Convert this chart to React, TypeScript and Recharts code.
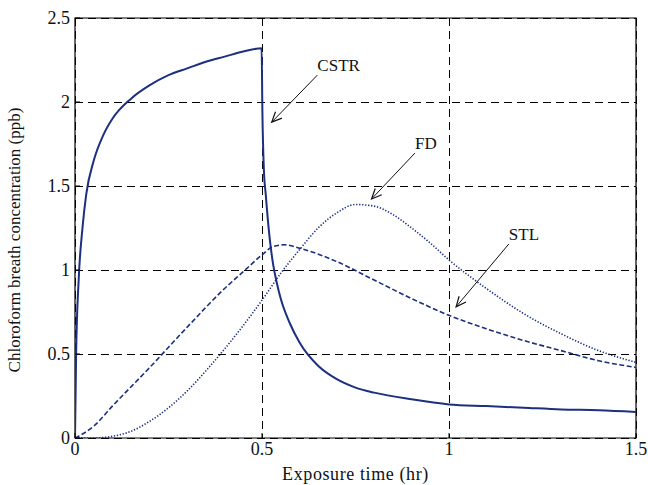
import React from 'react';
import { LineChart, Line, XAxis, YAxis, CartesianGrid, ReferenceArea, ReferenceLine } from 'recharts';

// CSTR (solid)
const cstrT = [0, 0.003, 0.01, 0.02, 0.03, 0.05, 0.075, 0.1, 0.15, 0.2, 0.25, 0.3, 0.35, 0.4, 0.45, 0.499, 0.501, 0.505, 0.51, 0.52, 0.53, 0.54, 0.55, 0.575, 0.6, 0.65, 0.7, 0.75, 0.8, 0.9, 1.0, 1.1, 1.2, 1.3, 1.4, 1.5];
const cstrV = [0, 0.5, 0.95, 1.25, 1.45, 1.65, 1.8, 1.9, 2.02, 2.1, 2.16, 2.2, 2.24, 2.27, 2.3, 2.32, 1.95, 1.6, 1.45, 1.2, 1.03, 0.92, 0.83, 0.68, 0.57, 0.43, 0.35, 0.3, 0.27, 0.23, 0.2, 0.19, 0.18, 0.17, 0.165, 0.155];

// STL (dashed)
const stlT = [0, 0.05, 0.1, 0.2, 0.3, 0.4, 0.45, 0.5, 0.53, 0.56, 0.6, 0.7, 0.8, 0.9, 1.0, 1.1, 1.2, 1.3, 1.4, 1.5];
const stlV = [0, 0.07, 0.19, 0.42, 0.66, 0.89, 0.99, 1.09, 1.14, 1.15, 1.13, 1.05, 0.94, 0.83, 0.73, 0.65, 0.58, 0.52, 0.46, 0.42];

// FD (dotted)
const fdT = [0, 0.05, 0.1, 0.15, 0.2, 0.25, 0.3, 0.35, 0.4, 0.45, 0.5, 0.55, 0.6, 0.65, 0.7, 0.75, 0.8, 0.85, 0.9, 0.95, 1.0, 1.1, 1.2, 1.3, 1.4, 1.5];
const fdV = [0, 0, 0.01, 0.04, 0.1, 0.18, 0.28, 0.4, 0.53, 0.67, 0.82, 0.98, 1.12, 1.25, 1.34, 1.39, 1.38, 1.33, 1.25, 1.16, 1.06, 0.89, 0.74, 0.62, 0.52, 0.45];

const xTicks = [0, 0.5, 1, 1.5];
const yTicks = [0, 0.5, 1, 1.5, 2, 2.5];

// annotations: label, arrow start (t, v) and arrow tip (t, v)
const annLabels = ['CSTR', 'FD', 'STL'];
const annStart = [[0.648, 2.16], [0.909, 1.696], [1.160, 1.155]];
const annTip = [[0.526, 1.88], [0.793, 1.423], [1.019, 0.781]];

const COLOR = '#1d2f80';
const FONT = 'Liberation Serif, Times New Roman, serif';

const cstrData = cstrT.map((t, i) => ({ t, v: cstrV[i] }));
const stlData = stlT.map((t, i) => ({ t, v: stlV[i] }));
const fdData = fdT.map((t, i) => ({ t, v: fdV[i] }));

const makeArrow = (label: string) => (p: any) => {
  const { x1, y1, x2, y2 } = p;
  const ang = Math.atan2(y2 - y1, x2 - x1);
  const L = 11;
  const a = 0.42;
  const hx1 = x2 - L * Math.cos(ang - a);
  const hy1 = y2 - L * Math.sin(ang - a);
  const hx2 = x2 - L * Math.cos(ang + a);
  const hy2 = y2 - L * Math.sin(ang + a);
  return (
    <g>
      <line x1={x1} y1={y1} x2={x2} y2={y2} stroke="#111" strokeWidth={1} />
      <polyline points={`${hx1},${hy1} ${x2},${y2} ${hx2},${hy2}`} fill="none" stroke="#111" strokeWidth={1.2} />
      <text x={x1} y={y1 - 4} fontFamily={FONT} fontSize={17} fill="#111">{label}</text>
    </g>
  );
};

export default function App() {
  return (
    <div style={{ position: 'fixed', left: 0, top: 0, width: 648, height: 485, background: '#fff' }}>
      <LineChart width={648} height={485} margin={{ top: 18, right: 12, bottom: 0, left: 0 }}>
        <CartesianGrid stroke="#000" strokeDasharray="8 5" strokeWidth={1} shapeRendering="crispEdges" />
        <XAxis
          dataKey="t"
          type="number"
          domain={[0, 1.5]}
          ticks={xTicks}
          allowDataOverflow
          height={47}
          tickSize={-5}
          tickMargin={9}
          axisLine={false}
          tickLine={{ stroke: '#000' }}
          tick={{ fill: '#111', fontFamily: FONT, fontSize: 18 }}
          label={{ value: 'Exposure time (hr)', position: 'insideBottom', offset: 5, fill: '#111', fontFamily: FONT, fontSize: 18, style: { letterSpacing: '0.6px' } }}
        />
        <YAxis
          type="number"
          domain={[0, 2.5]}
          ticks={yTicks}
          allowDataOverflow
          width={75}
          tickSize={-5}
          tickMargin={10}
          axisLine={false}
          tickLine={{ stroke: '#000' }}
          tick={{ fill: '#111', fontFamily: FONT, fontSize: 18 }}
          label={{
            content: (props: any) => {
              const vb = props.viewBox || { x: 0, y: 18, width: 75, height: 420 };
              const cy = vb.y + vb.height / 2 + 12;
              const cx = 20;
              return (
                <text x={cx} y={cy} transform={`rotate(-90, ${cx}, ${cy})`} textAnchor="middle" fontFamily={FONT} fontSize={17} fill="#111">
                  Chloroform breath concentration (ppb)
                </text>
              );
            },
          }}
        />
        <ReferenceArea x1={0} x2={1.5} y1={0} y2={2.5} fill="none" stroke="#000" strokeWidth={1.2} ifOverflow="visible" />
        <Line data={cstrData} dataKey="v" type="monotone" stroke={COLOR} strokeWidth={2} dot={false} isAnimationActive={false} />
        <Line data={stlData} dataKey="v" type="monotone" stroke={COLOR} strokeWidth={1.6} strokeDasharray="5 2.5" dot={false} isAnimationActive={false} />
        <Line data={fdData} dataKey="v" type="monotone" stroke={COLOR} strokeWidth={1.6} strokeDasharray="1.3 1.7" dot={false} isAnimationActive={false} />
        {annLabels.map((lab, i) => (
          <ReferenceLine
            key={lab}
            segment={[{ x: annStart[i][0], y: annStart[i][1] }, { x: annTip[i][0], y: annTip[i][1] }]}
            shape={makeArrow(lab)}
            ifOverflow="visible"
          />
        ))}
      </LineChart>
    </div>
  );
}
